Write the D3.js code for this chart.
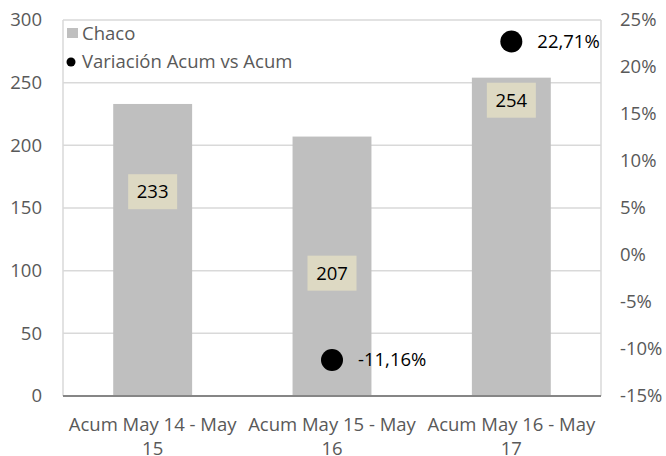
<!DOCTYPE html>
<html>
<head>
<meta charset="utf-8">
<script src="https://cdn.jsdelivr.net/npm/d3@7"></script>
<style>
  body { margin: 0; background: #fff; }
  svg text { font-family: "Open Sans", sans-serif; }
</style>
</head>
<body>
<div id="chart"></div>
<script>
// ----------------------
// Data
// ----------------------
const categories = ["Acum May 14 - May 15", "Acum May 15 - May 16", "Acum May 16 - May 17"];
const chacoValues = [233, 207, 254];
const variation = [null, -11.16, 22.71];
const leftTicks = [0, 50, 100, 150, 200, 250, 300];
const rightTicks = [-15, -10, -5, 0, 5, 10, 15, 20, 25];
// where each bar label sits (left axis units), placed by hand in the original
const labelAt = [163, 98, 236];

// ----------------------
// Setup
// ----------------------
const width = 666, height = 456;
const margin = { top: 20, right: 65, bottom: 60, left: 63 };
const plotW = width - margin.left - margin.right;
const plotH = height - margin.top - margin.bottom;
const fs = 18.5;

const svg = d3.select("#chart")
    .append("svg")
    .attr("width", width)
    .attr("height", height);

const g = svg.append("g")
    .attr("transform", `translate(${margin.left}, ${margin.top})`);

const x = d3.scaleBand()
    .domain(categories)
    .range([0, plotW])
    .paddingInner(0.56)
    .paddingOuter(0.28);

const y = d3.scaleLinear().domain([0, 300]).range([plotH, 0]);
const y2 = d3.scaleLinear().domain([-15, 25]).range([plotH, 0]);

const fmtPct = v => v.toFixed(2).replace(".", ",") + "%";

// gridlines
g.selectAll(".grid")
    .data(leftTicks.filter(d => d > 0))
    .enter()
    .append("line")
    .attr("x1", 0).attr("x2", plotW)
    .attr("y1", d => y(d)).attr("y2", d => y(d))
    .attr("stroke", "#d9d9d9")
    .attr("stroke-width", 1.5);

// plot border sides
g.append("line").attr("x1", 0).attr("x2", 0).attr("y1", 0).attr("y2", plotH)
    .attr("stroke", "#d9d9d9").attr("stroke-width", 1.5);
g.append("line").attr("x1", plotW).attr("x2", plotW).attr("y1", 0).attr("y2", plotH)
    .attr("stroke", "#d9d9d9").attr("stroke-width", 1.5);

// bars
g.selectAll(".bar")
    .data(chacoValues)
    .enter()
    .append("rect")
    .attr("x", (d, i) => x(categories[i]))
    .attr("width", x.bandwidth())
    .attr("y", d => y(d))
    .attr("height", d => plotH - y(d))
    .attr("fill", "#bfbfbf");

// baseline
g.append("line").attr("x1", 0).attr("x2", plotW).attr("y1", plotH).attr("y2", plotH)
    .attr("stroke", "#868686").attr("stroke-width", 2);

// bar labels with boxes
chacoValues.forEach((v, i) => {
    const cx = x(categories[i]) + x.bandwidth() / 2;
    const cy = y(labelAt[i]);
    g.append("rect")
        .attr("x", cx - 24.5).attr("y", cy - 17.5)
        .attr("width", 49).attr("height", 35)
        .attr("fill", "#ddd9c3");
    g.append("text")
        .attr("x", cx).attr("y", cy)
        .attr("dy", "0.35em")
        .attr("text-anchor", "middle")
        .attr("font-size", fs)
        .attr("fill", "#000")
        .text(v);
});

// variation points
variation.forEach((v, i) => {
    if (v === null) return;
    const cx = x(categories[i]) + x.bandwidth() / 2;
    g.append("circle")
        .attr("cx", cx).attr("cy", y2(v)).attr("r", 11)
        .attr("fill", "#000");
    g.append("text")
        .attr("x", cx + 26).attr("y", y2(v))
        .attr("dy", "0.35em")
        .attr("font-size", fs)
        .attr("fill", "#000")
        .text(fmtPct(v));
});

// left axis labels
svg.selectAll(".ly")
    .data(leftTicks)
    .enter()
    .append("text")
    .attr("x", 42)
    .attr("y", d => margin.top + y(d))
    .attr("dy", "0.35em")
    .attr("text-anchor", "end")
    .attr("font-size", fs)
    .attr("fill", "#595959")
    .text(d => d);

// right axis labels
svg.selectAll(".ry")
    .data(rightTicks)
    .enter()
    .append("text")
    .attr("x", 620)
    .attr("y", d => margin.top + y2(d))
    .attr("dy", "0.35em")
    .attr("font-size", fs)
    .attr("fill", "#595959")
    .text(d => d + "%");

// category labels (wrapped like Excel)
categories.forEach(c => {
    const cx = margin.left + x(c) + x.bandwidth() / 2;
    const words = c.split(" ");
    const line1 = words.slice(0, -1).join(" ");
    const line2 = words[words.length - 1];
    [line1, line2].forEach((t, k) => {
        svg.append("text")
            .attr("x", cx)
            .attr("y", 431 + k * 24)
            .attr("text-anchor", "middle")
            .attr("font-size", fs)
            .attr("fill", "#595959")
            .text(t);
    });
});

// legend
const legend = svg.append("g");
legend.append("rect").attr("x", 67).attr("y", 28).attr("width", 11).attr("height", 10)
    .attr("fill", "#bfbfbf");
legend.append("text").attr("x", 82).attr("y", 34)
    .attr("dy", "0.35em").attr("font-size", fs).attr("fill", "#595959")
    .text("Chaco");
legend.append("circle").attr("cx", 71).attr("cy", 62).attr("r", 4.5).attr("fill", "#000");
legend.append("text").attr("x", 82).attr("y", 62)
    .attr("dy", "0.35em").attr("font-size", fs).attr("fill", "#595959")
    .text("Variación Acum vs Acum");
</script>
</body>
</html>
